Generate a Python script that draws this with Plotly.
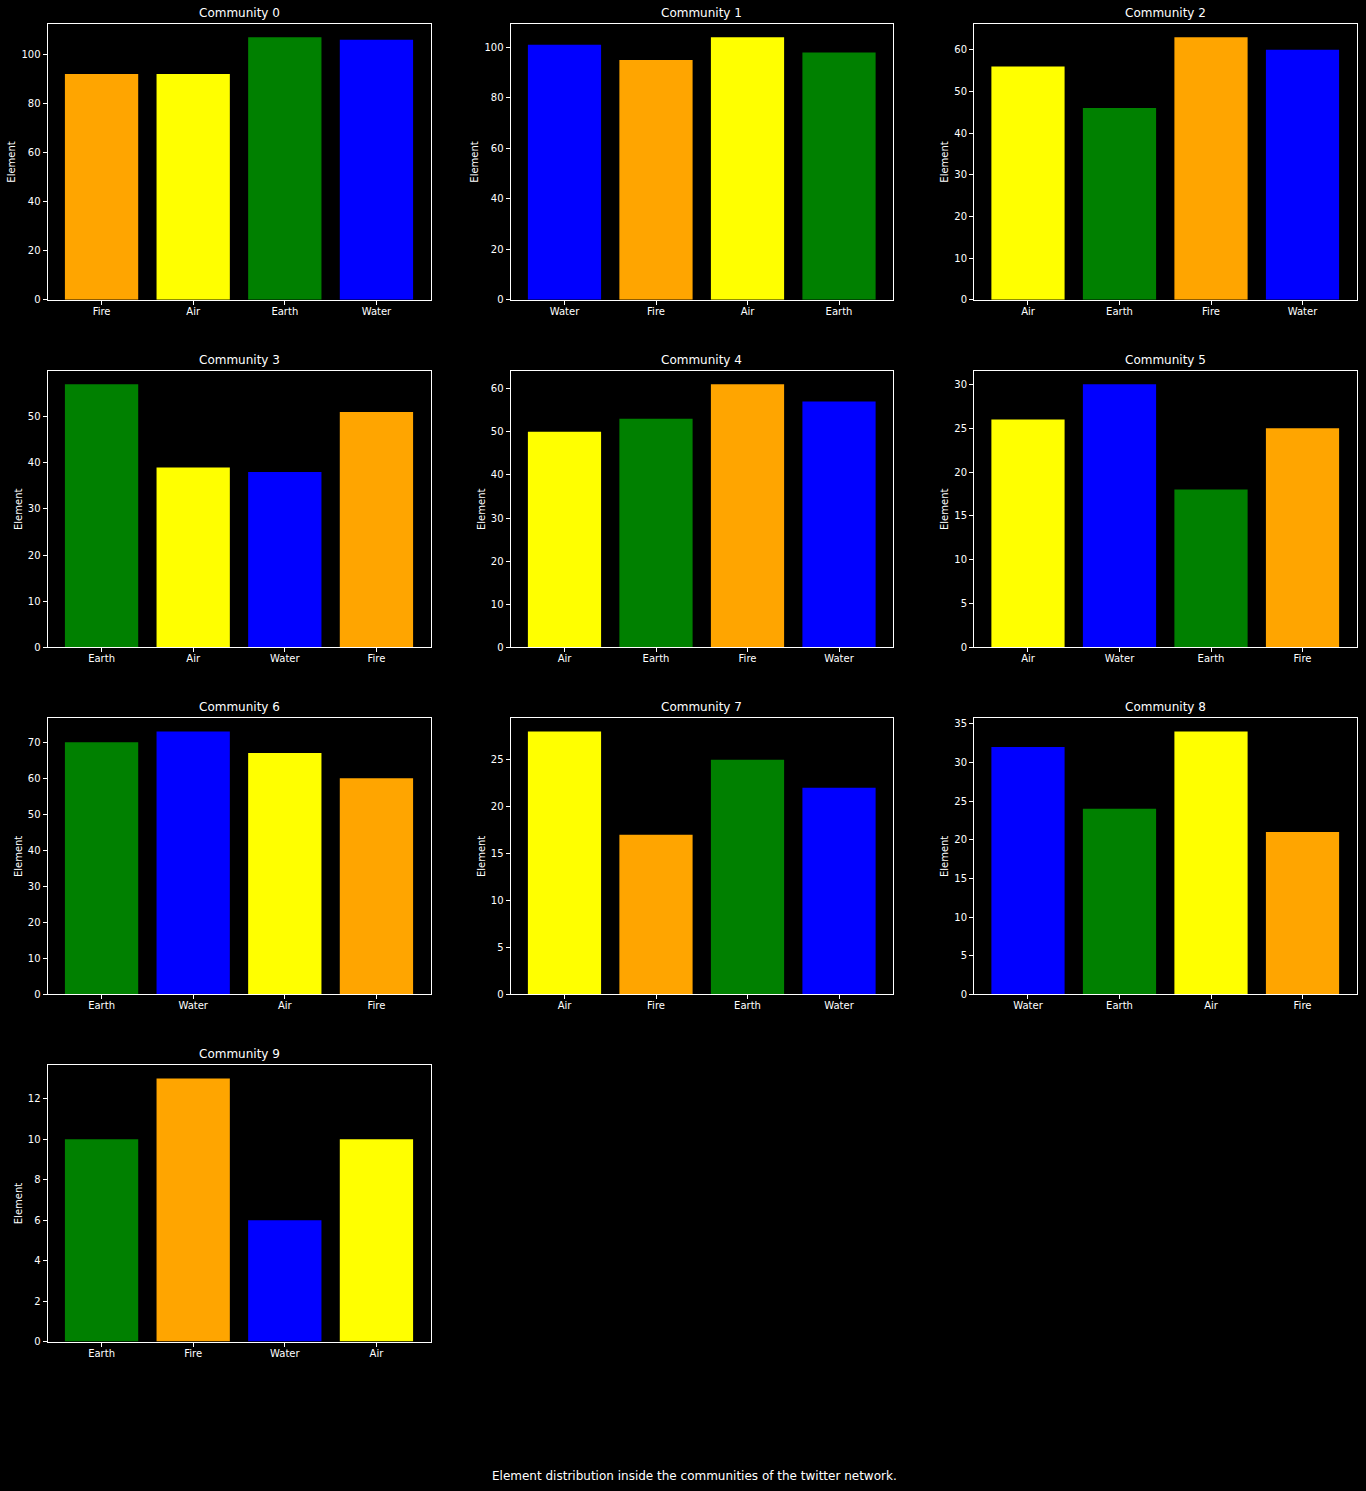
import plotly.graph_objects as go

COLORS = {"Fire": "orange", "Air": "yellow", "Earth": "green", "Water": "blue"}

c0_labels = ["Fire", "Air", "Earth", "Water"]
c0_values = [92, 92, 107, 106]
c1_labels = ["Water", "Fire", "Air", "Earth"]
c1_values = [101, 95, 104, 98]
c2_labels = ["Air", "Earth", "Fire", "Water"]
c2_values = [56, 46, 63, 60]
c3_labels = ["Earth", "Air", "Water", "Fire"]
c3_values = [57, 39, 38, 51]
c4_labels = ["Air", "Earth", "Fire", "Water"]
c4_values = [50, 53, 61, 57]
c5_labels = ["Air", "Water", "Earth", "Fire"]
c5_values = [26, 30, 18, 25]
c6_labels = ["Earth", "Water", "Air", "Fire"]
c6_values = [70, 73, 67, 60]
c7_labels = ["Air", "Fire", "Earth", "Water"]
c7_values = [28, 17, 25, 22]
c8_labels = ["Water", "Earth", "Air", "Fire"]
c8_values = [32, 24, 34, 21]
c9_labels = ["Earth", "Fire", "Water", "Air"]
c9_values = [10, 13, 6, 10]

communities = [
    (c0_labels, c0_values), (c1_labels, c1_values), (c2_labels, c2_values),
    (c3_labels, c3_values), (c4_labels, c4_values), (c5_labels, c5_values),
    (c6_labels, c6_values), (c7_labels, c7_values), (c8_labels, c8_values),
    (c9_labels, c9_values),
]

W, H = 1366, 1491


def vy(y):
    # small vertical correction so the rendered page lands on target pixels
    return (y + 1.14) / 0.99712


col_px = [(47.5, 430.5), (510.5, 893), (974, 1356.5)]
row_px = [(23, 299), (370.5, 647), (718, 994.5), (1065.5, 1342)]

FONT = "DejaVu Sans"
fig = go.Figure()
annotations = []
layout = {}

for i, (labels, values) in enumerate(communities):
    r, c = divmod(i, 3)
    ax = "" if i == 0 else str(i + 1)
    x0, x1 = col_px[c]
    y0, y1 = vy(row_px[r][0]), vy(row_px[r][1])
    fig.add_trace(go.Bar(
        x=labels, y=values,
        marker=dict(color=[COLORS[l] for l in labels], line=dict(width=0)),
        xaxis="x" + ax, yaxis="y" + ax, showlegend=False,
    ))
    common = dict(showline=True, linecolor="white", linewidth=1, mirror=True,
                  ticks="outside", tickcolor="white", ticklen=4, tickwidth=1,
                  showgrid=False, zeroline=False,
                  tickfont=dict(family=FONT, size=10, color="white"))
    layout["xaxis" + ax] = dict(domain=[x0 / W, x1 / W], anchor="y" + ax,
                                range=[-0.59, 3.59], ticklabelstandoff=-2, **common)
    layout["yaxis" + ax] = dict(domain=[1 - y1 / H, 1 - y0 / H], anchor="x" + ax,
                                range=[0, max(values) * 1.05],
                                title=dict(text="Element", standoff=3,
                                           font=dict(family=FONT, size=10, color="white")),
                                **common)
    annotations.append(dict(text=f"Community {i}", xref="paper", yref="paper",
                            x=(x0 + x1) / 2 / W, y=1 - y0 / H, yanchor="bottom",
                            xanchor="center", yshift=2, showarrow=False,
                            font=dict(family=FONT, size=12, color="white")))

annotations.append(dict(text="Element distribution inside the communities of the twitter network.",
                        xref="paper", yref="paper", x=694 / W, y=1 - vy(1477) / H,
                        xanchor="center", yanchor="middle", showarrow=False,
                        font=dict(family=FONT, size=12, color="white")))

fig.update_layout(width=W, height=H, margin=dict(l=0, r=0, t=0, b=0),
                  paper_bgcolor="black", plot_bgcolor="black",
                  bargap=0.2, annotations=annotations, **layout)

fig.write_html("out.html")
